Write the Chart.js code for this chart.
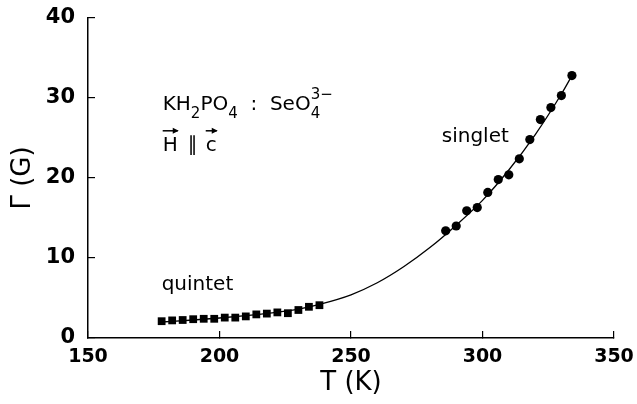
<!DOCTYPE html>
<html><head><meta charset="utf-8">
<script src="https://cdn.jsdelivr.net/npm/chart.js@4.4.1/dist/chart.umd.min.js"></script>
<style>html,body{margin:0;padding:0;background:#fff;}#wrap{width:637px;height:404px;}</style>
</head><body><div id="wrap"><canvas id="c" width="637" height="404"></canvas></div>
<script>
// Temperatures (K) and linewidths (G)
const quintetT = [178,182,186,190,194,198,202,206,210,214,218,222,226,230,234,238];
const quintetG = [2.1,2.2,2.25,2.35,2.4,2.4,2.55,2.55,2.7,2.95,3.05,3.2,3.1,3.5,3.9,4.1];
const singletT = [286,290,294,298,302,306,310,314,318,322,326,330,334];
const singletG = [13.4,14.0,15.9,16.3,18.2,19.8,20.4,22.4,24.8,27.3,28.8,30.3,32.8];
// fitted curve
const fitT = [178,190,200,210,220,230,238,250,260,270,280,290,300,310,320,330,334];
const fitG = [2.0,2.25,2.5,2.8,3.15,3.6,4.2,5.4,6.9,8.9,11.3,14.1,17.2,21.0,25.4,30.5,32.8];
const xTicks = [150,200,250,300,350];
const yTicks = [0,10,20,30,40];

const FONT = "'DejaVu Sans', sans-serif";
const toXY = (xs, ys) => xs.map((x,i)=>({x, y: ys[i]}));
const noPad = s => { s.paddingTop = 0; s.paddingBottom = 0; s.paddingLeft = 0; s.paddingRight = 0; };

const annot = {
  id: 'annot',
  afterDraw(chart) {
    const {ctx, scales:{x, y}} = chart;
    ctx.save();
    ctx.fillStyle = '#000';
    ctx.strokeStyle = '#000';
    ctx.textBaseline = 'alphabetic';
    ctx.textAlign = 'left';
    const big = '20px ' + FONT, small = '15px ' + FONT;
    // formula line
    let px = x.getPixelForValue(178.4), py = y.getPixelForValue(28.5);
    const seg = (t, f, dy) => { ctx.font = f; ctx.fillText(t, px, py + dy); px += ctx.measureText(t).width; };
    seg('KH', big, 0); seg('2', small, 8); seg('PO', big, 0); seg('4', small, 8);
    seg('  :  SeO', big, 0);
    const sx = px; seg('4', small, 8); px = sx; seg('3\u2212', small, -11);
    // H || c line
    px = x.getPixelForValue(178.4); py = y.getPixelForValue(23.4);
    ctx.font = big;
    const arrow = (x0, w, yy) => {
      ctx.lineWidth = 1.5;
      ctx.beginPath(); ctx.moveTo(x0, yy); ctx.lineTo(x0 + w, yy); ctx.stroke();
      ctx.beginPath(); ctx.moveTo(x0 + w + 1, yy); ctx.lineTo(x0 + w - 5, yy - 3); ctx.lineTo(x0 + w - 5, yy + 3); ctx.closePath(); ctx.fill();
    };
    const hw = ctx.measureText('H').width;
    ctx.fillText('H', px, py); arrow(px, hw, py - 20);
    px += hw + 10;
    ctx.fillText('\u2225', px, py);
    px += ctx.measureText('\u2225').width + 8;
    const cw = ctx.measureText('c').width;
    ctx.fillText('c', px, py); arrow(px, cw, py - 20);
    // labels
    ctx.font = big;
    ctx.fillText('singlet', x.getPixelForValue(284.5), y.getPixelForValue(24.5));
    ctx.fillText('quintet', x.getPixelForValue(178), y.getPixelForValue(6));
    ctx.restore();
  }
};

new Chart(document.getElementById('c'), {
  data: {
    datasets: [
      { type: 'line', data: toXY(fitT, fitG), borderColor: '#000', borderWidth: 1.3, pointRadius: 0,
        cubicInterpolationMode: 'monotone', fill: false, order: 3 },
      { type: 'scatter', data: toXY(quintetT, quintetG), pointStyle: 'rect', pointRadius: 5.5,
        backgroundColor: '#000', borderColor: '#000', borderWidth: 0, order: 1 },
      { type: 'scatter', data: toXY(singletT, singletG), pointStyle: 'circle', pointRadius: 4.6,
        backgroundColor: '#000', borderColor: '#000', borderWidth: 0, order: 2 }
    ]
  },
  options: {
    responsive: false, animation: false, devicePixelRatio: 1,
    layout: { padding: { top: 18, right: 23, left: 0, bottom: 0 } },
    plugins: { legend: { display: false }, tooltip: { enabled: false } },
    scales: {
      x: {
        type: 'linear', min: 150, max: 350,
        afterBuildTicks: s => { s.ticks = xTicks.map(v => ({ value: v })); },
        afterFit: s => { s.height = 66; noPad(s); },
        ticks: { color: '#000', font: { family: FONT, size: 19, weight: 'bold' }, padding: 15 },
        grid: { drawOnChartArea: false, drawTicks: true, tickLength: -7, color: '#000', lineWidth: 1.2 },
        border: { display: true, color: '#000', width: 1.5 },
        title: { display: true, text: 'T (K)', color: '#000', font: { family: FONT, size: 26 }, padding: { top: 0, bottom: 5 } }
      },
      y: {
        type: 'linear', min: 0, max: 40,
        afterBuildTicks: s => { s.ticks = yTicks.map(v => ({ value: v })); },
        afterFit: s => { s.width = 88; noPad(s); },
        ticks: { color: '#000', font: { family: FONT, size: 21, weight: 'bold' }, padding: 20 },
        grid: { drawOnChartArea: false, drawTicks: true, tickLength: -7, color: '#000', lineWidth: 1.2 },
        border: { display: true, color: '#000', width: 1.5 },
        title: { display: true, text: '\u0393 (G)', color: '#000', font: { family: FONT, size: 26 }, padding: { top: 8, bottom: 0 } }
      }
    }
  },
  plugins: [annot]
});
</script></body></html>
